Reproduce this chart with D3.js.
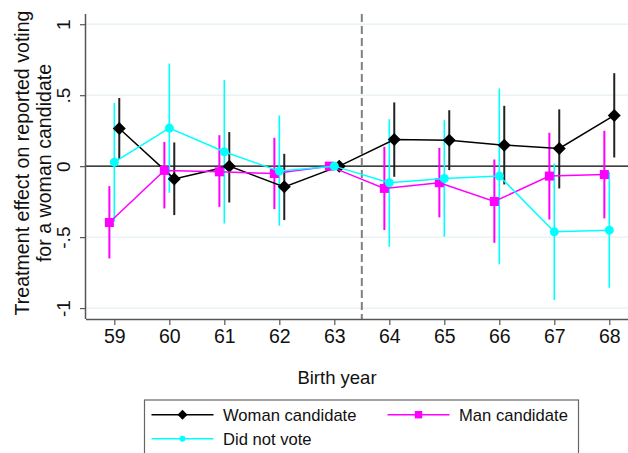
<!DOCTYPE html>
<html><head><meta charset="utf-8">
<script src="https://cdn.jsdelivr.net/npm/d3@7"></script>
<style>body{margin:0;background:#fff}svg{display:block;font-family:"Liberation Sans",Arial,sans-serif}</style>
</head><body><svg id="c" width="628" height="453"></svg>
<script>
const years = [59,60,61,62,63,64,65,66,67,68];
const xTicks = [59,60,61,62,63,64,65,66,67,68];
const yTicks = [1,0.5,0,-0.5,-1];
const yTickLabels = ["1",".5","0","-.5","-1"];

const womanEst = [0.265,-0.09,0.0,-0.146,0,0.188,0.183,0.148,0.125,0.357];
const womanLo  = [0.05,-0.345,-0.256,-0.38,null,-0.075,-0.028,-0.129,-0.157,0.061];
const womanHi  = [0.48,0.167,0.24,0.087,null,0.449,0.394,0.425,0.40,0.655];

const manEst = [-0.397,-0.03,-0.04,-0.052,0,-0.157,-0.117,-0.249,-0.07,-0.059];
const manLo  = [-0.65,-0.298,-0.287,-0.303,null,-0.45,-0.361,-0.54,-0.376,-0.368];
const manHi  = [-0.141,0.171,0.218,0.2,null,0.136,0.129,0.047,0.235,0.249];

const dnvEst = [0.028,0.268,0.101,-0.035,0,-0.117,-0.087,-0.07,-0.463,-0.451];
const dnvLo  = [-0.392,-0.188,-0.404,-0.42,null,-0.568,-0.497,-0.692,-0.944,-0.857];
const dnvHi  = [0.446,0.723,0.606,0.357,null,0.331,0.324,0.547,0.019,-0.04];

const seriesNames = ["Woman candidate","Man candidate","Did not vote"];
const cutoff = 63.5;

const svg = d3.select("#c");
const L=86, R=628, T=14, B=319;
const x = d3.scaleLinear().domain([58.485,68.34]).range([L,R]);
const y = d3.scaleLinear().domain([-1.077,1.072]).range([B,T]);

// gridlines
svg.append("g").selectAll("line").data(yTicks.filter(v=>v!==0)).join("line")
  .attr("x1",L).attr("x2",R).attr("y1",d=>y(d)).attr("y2",d=>y(d))
  .attr("stroke","#e6eff2").attr("stroke-width",1.2);

// zero line
svg.append("line").attr("x1",L).attr("x2",R).attr("y1",y(0)).attr("y2",y(0))
  .attr("stroke","#000").attr("stroke-width",1.2);

// dashed cutoff
svg.append("line").attr("x1",x(cutoff)).attr("x2",x(cutoff)).attr("y1",T).attr("y2",B)
  .attr("stroke","#808080").attr("stroke-width",2).attr("stroke-dasharray","8,4");

const series = [
  {name:seriesNames[0], est:womanEst, lo:womanLo, hi:womanHi, off:0.09, color:"#000", ci:"#222", ciw:2, shape:"diamond"},
  {name:seriesNames[1], est:manEst, lo:manLo, hi:manHi, off:-0.09, color:"#ff00ff", ci:"#ff00ff", ciw:2, shape:"square"},
  {name:seriesNames[2], est:dnvEst, lo:dnvLo, hi:dnvHi, off:0, color:"#00ffff", ci:"#00ffff", ciw:1.6, shape:"circle"}
];

function marker(g, shape, cx, cy, color, s){
  if(shape==="diamond"){
    g.append("path").attr("d",`M${cx},${cy-s}L${cx+s},${cy}L${cx},${cy+s}L${cx-s},${cy}Z`).attr("fill",color);
  } else if(shape==="square"){
    g.append("rect").attr("x",cx-s).attr("y",cy-s).attr("width",2*s).attr("height",2*s).attr("fill",color);
  } else {
    g.append("circle").attr("cx",cx).attr("cy",cy).attr("r",s).attr("fill",color);
  }
}

// CIs
series.forEach(s=>{
  const g = svg.append("g");
  years.forEach((yr,i)=>{
    if(s.lo[i]==null) return;
    g.append("line").attr("x1",x(yr+s.off)).attr("x2",x(yr+s.off))
      .attr("y1",y(s.lo[i])).attr("y2",y(s.hi[i]))
      .attr("stroke",s.ci).attr("stroke-width",s.ciw);
  });
});
// lines + markers
const sizes = {diamond:6.5, square:4.5, circle:4.5};
series.forEach(s=>{
  const line = d3.line().x((d,i)=>x(years[i]+s.off)).y(d=>y(d));
  svg.append("path").attr("d",line(s.est)).attr("fill","none").attr("stroke",s.color).attr("stroke-width",1.5);
  const g = svg.append("g");
  years.forEach((yr,i)=>marker(g,s.shape,x(yr+s.off),y(s.est[i]),s.color,sizes[s.shape]));
});

// axes
const ax = svg.append("g").attr("transform",`translate(0,${B})`)
  .call(d3.axisBottom(x).tickValues(xTicks).tickFormat(d3.format("d")).tickSize(6).tickSizeOuter(0));
ax.select(".domain").attr("stroke","#555").attr("stroke-width",1.5).attr("d",`M${L},0.5H${R}`);
ax.selectAll(".tick line").attr("stroke","#555").attr("stroke-width",1.2);
ax.selectAll(".tick text").attr("font-size",19.5).attr("fill","#111").attr("dy",0).attr("y",24).attr("font-family","Liberation Sans, Arial, sans-serif");

const ay = svg.append("g").attr("transform",`translate(${L},0)`)
  .call(d3.axisLeft(y).tickValues(yTicks).tickFormat((d,i)=>yTickLabels[i]).tickSize(6).tickSizeOuter(0));
ay.select(".domain").attr("stroke","#555").attr("stroke-width",1.5).attr("d",`M-0.5,${T}V${B}`);
ay.selectAll(".tick line").attr("stroke","#555").attr("stroke-width",1.2);
ay.selectAll(".tick text").attr("font-size",19).attr("fill","#111")
  .attr("x",0).attr("dy",0).attr("text-anchor","middle")
  .attr("transform","translate(-16,0) rotate(-90)").attr("y",0).attr("font-family","Liberation Sans, Arial, sans-serif");

// axis titles
svg.append("text").attr("x",337).attr("y",384).attr("text-anchor","middle").attr("font-size",18.5).attr("fill","#111").text("Birth year");
const yt = svg.append("text").attr("transform","translate(0,163) rotate(-90)").attr("text-anchor","middle").attr("font-size",19.6).attr("fill","#111");
yt.append("tspan").attr("x",0).attr("y",29).text("Treatment effect on reported voting");
yt.append("tspan").attr("x",0).attr("y",51).text("for a woman candidate");

// legend
const lg = svg.append("g");
lg.append("rect").attr("x",144.5).attr("y",400).attr("width",434).attr("height",70).attr("fill","#fff").attr("stroke","#666").attr("stroke-width",1.2);
const items = [
  {s:series[0], lx:151.5, ly:414.7},
  {s:series[1], lx:387.5, ly:414.7},
  {s:series[2], lx:151.5, ly:438.7}
];
const lsz = {diamond:5, square:3.7, circle:3};
items.forEach(it=>{
  lg.append("line").attr("x1",it.lx).attr("x2",it.lx+62).attr("y1",it.ly).attr("y2",it.ly).attr("stroke",it.s.color).attr("stroke-width",1.5);
  marker(lg,it.s.shape,it.lx+31,it.ly,it.s.color,lsz[it.s.shape]);
  lg.append("text").attr("x",it.lx+71.5).attr("y",it.ly+6).attr("font-size",16.6).attr("fill","#111").text(it.s.name);
});
</script></body></html>
